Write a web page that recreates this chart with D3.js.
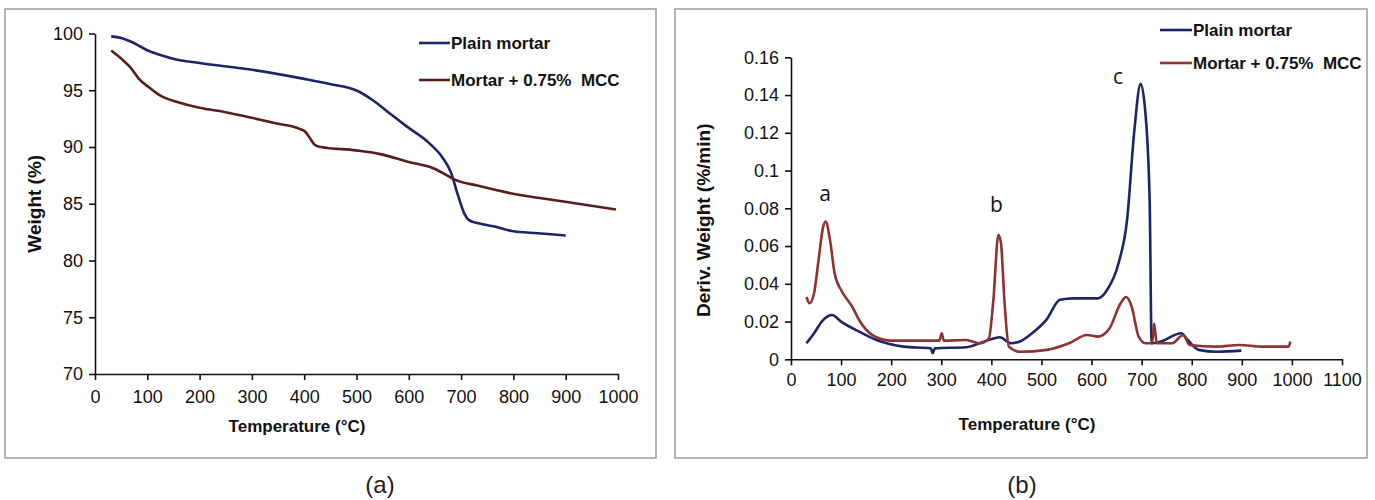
<!DOCTYPE html>
<html>
<head>
<meta charset="utf-8">
<script src="https://cdn.jsdelivr.net/npm/d3@7"></script>
<style>
  body { margin: 0; background: #fff; }
  .tick text { font-family: "Liberation Sans", Arial, sans-serif; font-size: 18px; fill: #111; }
  .axis path, .axis line { stroke: #111; stroke-width: 1.6px; }
  .title { font-family: "Liberation Sans", Arial, sans-serif; font-weight: bold; font-size: 17px; fill: #111; }
  .ytitle { font-size: 19px; }
  .legend { font-family: "Liberation Sans", Arial, sans-serif; font-weight: bold; font-size: 17px; fill: #111; white-space: pre; }
  .peak { font-family: "Open Sans", "Liberation Sans", Arial, sans-serif; font-size: 21px; fill: #111; }
  .caption { font-family: "Liberation Sans", Arial, sans-serif; font-size: 24px; fill: #222; }
</style>
</head>
<body>
<script>
// Panel (a): TGA weight curves
var tgaPlainT = [31, 50, 68, 85, 101, 125, 151, 200, 300, 400, 449, 499, 532, 565, 598, 640, 664, 681, 693, 706, 714, 731, 764, 797, 847, 900];
var tgaPlainW = [99.75, 99.6, 99.3, 98.9, 98.5, 98.1, 97.75, 97.4, 96.8, 96.0, 95.55, 95.0, 94.1, 92.9, 91.75, 90.3, 89.1, 87.7, 85.9, 84.15, 83.6, 83.3, 83.0, 82.6, 82.4, 82.2];

var tgaMccT = [31, 51, 68, 84, 105, 126, 159, 200, 250, 300, 350, 391, 403, 412, 420, 432, 499, 548, 598, 648, 673, 689, 731, 797, 896, 996];
var tgaMccW = [98.5, 97.75, 97.0, 96.0, 95.2, 94.5, 93.95, 93.45, 93.07, 92.57, 92.05, 91.6, 91.3, 90.7, 90.2, 90.0, 89.7, 89.35, 88.7, 88.1, 87.5, 87.1, 86.6, 85.9, 85.2, 84.5];

// Panel (b): DTG derivative curves
var dtgPlainT = [31, 46, 64, 82, 100, 136, 171, 225, 279, 283, 287, 350, 386, 417, 439, 457, 480, 510, 537, 564, 613, 631, 654, 671, 685, 698, 707, 716, 720, 738, 779, 792, 814, 850, 899];
var dtgPlainD = [0.0085, 0.0138, 0.0208, 0.0235, 0.020, 0.0147, 0.0102, 0.0067, 0.0058, 0.0032, 0.0058, 0.0064, 0.0094, 0.0117, 0.0085, 0.0094, 0.0135, 0.021, 0.0315, 0.0323, 0.0323, 0.0367, 0.051, 0.074, 0.12, 0.146, 0.132, 0.084, 0.0085, 0.0094, 0.0138, 0.0102, 0.005, 0.004, 0.0046];

var dtgMccT = [31, 37, 46, 55, 64, 69, 78, 87, 100, 113, 122, 136, 162, 198, 243, 296, 301, 305, 350, 377, 395, 404, 414, 419, 426, 435, 457, 511, 555, 591, 613, 636, 658, 669, 680, 694, 708, 721, 725, 730, 761, 783, 796, 850, 895, 940, 993, 997];
var dtgMccD = [0.033, 0.0297, 0.035, 0.0526, 0.070, 0.073, 0.063, 0.0456, 0.0367, 0.0314, 0.028, 0.0208, 0.0129, 0.0099, 0.0099, 0.0099, 0.0138, 0.0099, 0.0102, 0.0085, 0.011, 0.0314, 0.066, 0.062, 0.0314, 0.0067, 0.004, 0.005, 0.0085, 0.0129, 0.012, 0.0164, 0.0297, 0.033, 0.028, 0.012, 0.0085, 0.0085, 0.019, 0.0085, 0.0085, 0.0129, 0.0076, 0.0067, 0.0076, 0.0067, 0.0067, 0.0094];

var seriesNames = ["Plain mortar", "Mortar + 0.75%  MCC"];
var tgaTicksX = d3.range(0, 1001, 100);
var tgaTicksY = d3.range(70, 101, 5);
var dtgTicksX = d3.range(0, 1101, 100);
var dtgTicksY = [0, 0.02, 0.04, 0.06, 0.08, 0.1, 0.12, 0.14, 0.16];
var peaks = [{label: "a", t: 68, v: 0.084}, {label: "b", t: 410, v: 0.078}, {label: "c", t: 653, v: 0.146}];

var w = 1375, h = 500;
var blue = "#1c2568";

var svg = d3.select("body").append("svg")
  .attr("width", w)
  .attr("height", h);

// frames
svg.append("rect").attr("x", 5).attr("y", 9).attr("width", 651).attr("height", 449)
  .attr("fill", "none").attr("stroke", "#9a9a9a").attr("stroke-width", 1.5);
svg.append("rect").attr("x", 675).attr("y", 9).attr("width", 692).attr("height", 449)
  .attr("fill", "none").attr("stroke", "#9a9a9a").attr("stroke-width", 1.5);

function zip(ts, vs) {
  return ts.map(function(t, i) { return {t: t, v: vs[i]}; });
}

/** panel (a) **/
var xA = d3.scaleLinear().domain([0, 1000]).range([95, 618]);
var yA = d3.scaleLinear().domain([70, 100]).range([374, 33.5]);

svg.append("g")
  .attr("class", "axis")
  .attr("transform", "translate(0," + yA(70) + ")")
  .call(d3.axisBottom(xA).tickValues(tgaTicksX).tickFormat(d3.format("d"))
    .tickSize(6).tickSizeOuter(0).tickPadding(10));

svg.append("g")
  .attr("class", "axis")
  .attr("transform", "translate(" + xA(0) + ",0)")
  .call(d3.axisLeft(yA).tickValues(tgaTicksY).tickSize(6).tickSizeOuter(0).tickPadding(6));

var lineA = d3.line()
  .x(function(d) { return xA(d.t); })
  .y(function(d) { return yA(d.v); })
  .curve(d3.curveMonotoneX);

var colorsA = [blue, "#5a1d1d"];
[zip(tgaPlainT, tgaPlainW), zip(tgaMccT, tgaMccW)].forEach(function(s, i) {
  svg.append("path")
    .datum(s)
    .attr("fill", "none")
    .attr("stroke", colorsA[i])
    .attr("stroke-width", 2.6)
    .attr("d", lineA);
});

svg.append("text").attr("class", "title ytitle")
  .attr("transform", "translate(41," + ((yA(70) + yA(100)) / 2) + ") rotate(-90)")
  .attr("text-anchor", "middle")
  .text("Weight (%)");
svg.append("text").attr("class", "title")
  .attr("x", 297).attr("y", 432)
  .attr("text-anchor", "middle")
  .text("Temperature (°C)");

seriesNames.forEach(function(name, i) {
  var yy = 43 + i * 37;
  svg.append("line").attr("x1", 419).attr("x2", 450).attr("y1", yy).attr("y2", yy)
    .attr("stroke", colorsA[i]).attr("stroke-width", 2.6);
  svg.append("text").attr("class", "legend").attr("x", 451).attr("y", yy + 6).text(name);
});

svg.append("text").attr("class", "caption")
  .attr("x", 380).attr("y", 493).attr("text-anchor", "middle").text("(a)");

/** panel (b) **/
var xB = d3.scaleLinear().domain([0, 1100]).range([791, 1342]);
var yB = d3.scaleLinear().domain([0, 0.16]).range([359.3, 57.3]);

svg.append("g")
  .attr("class", "axis")
  .attr("transform", "translate(0," + yB(0) + ")")
  .call(d3.axisBottom(xB).tickValues(dtgTicksX).tickFormat(d3.format("d"))
    .tickSize(6).tickSizeOuter(0).tickPadding(8));

svg.append("g")
  .attr("class", "axis")
  .attr("transform", "translate(" + xB(0) + ",0)")
  .call(d3.axisLeft(yB).tickValues(dtgTicksY).tickFormat(function(d) { return String(+d.toFixed(2)); })
    .tickSize(6).tickSizeOuter(0).tickPadding(6));

var lineB = d3.line()
  .x(function(d) { return xB(d.t); })
  .y(function(d) { return yB(d.v); })
  .curve(d3.curveMonotoneX);

var colorsB = [blue, "#8e3333"];
[zip(dtgPlainT, dtgPlainD), zip(dtgMccT, dtgMccD)].forEach(function(s, i) {
  svg.append("path")
    .datum(s)
    .attr("fill", "none")
    .attr("stroke", colorsB[i])
    .attr("stroke-width", 2.6)
    .attr("d", lineB);
});

peaks.forEach(function(p) {
  svg.append("text").attr("class", "peak")
    .attr("x", xB(p.t)).attr("y", yB(p.v))
    .attr("text-anchor", "middle")
    .text(p.label);
});

svg.append("text").attr("class", "title ytitle")
  .attr("transform", "translate(710," + ((yB(0) + yB(0.16)) / 2 + 12) + ") rotate(-90)")
  .attr("text-anchor", "middle")
  .text("Deriv. Weight (%/min)");
svg.append("text").attr("class", "title")
  .attr("x", 1027).attr("y", 430)
  .attr("text-anchor", "middle")
  .text("Temperature (°C)");

seriesNames.forEach(function(name, i) {
  var yy = 30 + i * 33;
  svg.append("line").attr("x1", 1160).attr("x2", 1192).attr("y1", yy).attr("y2", yy)
    .attr("stroke", colorsB[i]).attr("stroke-width", 2.6);
  svg.append("text").attr("class", "legend").attr("x", 1193).attr("y", yy + 6).text(name);
});

svg.append("text").attr("class", "caption")
  .attr("x", 1022).attr("y", 493).attr("text-anchor", "middle").text("(b)");
</script>
</body>
</html>
